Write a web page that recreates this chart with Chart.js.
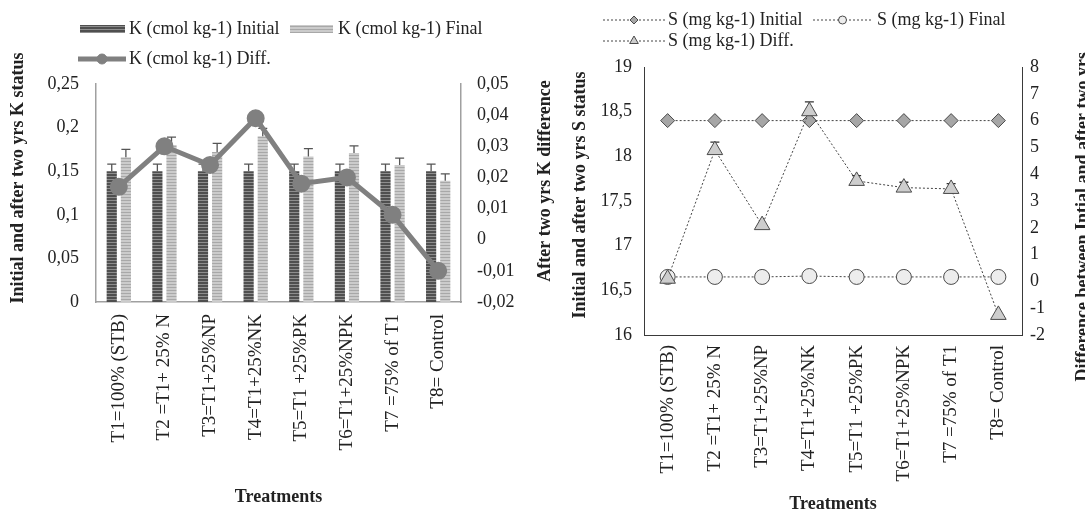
<!DOCTYPE html>
<html>
<head>
<meta charset="utf-8">
<script src="https://cdn.jsdelivr.net/npm/chart.js@4.4.1/dist/chart.umd.min.js"></script>
<style>
  html, body { margin: 0; padding: 0; background: #ffffff; }
  #wrap { position: relative; width: 1085px; height: 513px; overflow: hidden; }
  canvas { position: absolute; top: 0; }
  #kChart { left: 0; }
  #sChart { left: 560px; }
</style>
</head>
<body>
<div id="wrap">
  <canvas id="kChart" width="560" height="513"></canvas>
  <canvas id="sChart" width="525" height="513"></canvas>
</div>
<script>
// Treatments (shared category axis)
const treatments = [
  'T1=100% (STB)', 'T2 =T1+ 25% N', 'T3=T1+25%NP', 'T4=T1+25%NK',
  'T5=T1 +25%PK', 'T6=T1+25%NPK', 'T7 =75% of T1', 'T8= Control'
];

// Potassium, cmol kg-1
const kInitial    = [0.15, 0.15, 0.15, 0.15, 0.15, 0.15, 0.15, 0.15];
const kInitialErr = [0.008, 0.008, 0.008, 0.008, 0.008, 0.008, 0.008, 0.008];
const kFinal      = [0.166, 0.180, 0.172, 0.190, 0.167, 0.171, 0.157, 0.139];
const kFinalErr   = [0.009, 0.009, 0.010, 0.009, 0.009, 0.008, 0.008, 0.008];
const kDiff       = [0.017, 0.030, 0.024, 0.039, 0.018, 0.020, 0.008, -0.010];

// Sulphur, mg kg-1
const sInitial = [18.4, 18.4, 18.4, 18.4, 18.4, 18.4, 18.4, 18.4];
const sFinal   = [16.65, 16.65, 16.65, 16.66, 16.65, 16.65, 16.65, 16.65];
const sDiff    = [0.1, 4.9, 2.1, 6.35, 3.75, 3.5, 3.45, -1.25];
const sDiffErr = [0, 0.3, 0, 0.35, 0.2, 0.2, 0.2, 0];

// Axis ranges and steps
const kAxis     = { min: 0, max: 0.25, step: 0.05 };
const kDiffAxis = { min: -0.02, max: 0.05, step: 0.01 };
const sAxis     = { min: 16, max: 19, step: 0.5 };
const sDiffAxis = { min: -2, max: 8, step: 1 };

const SERIF = "'Liberation Serif', 'Times New Roman', serif";
const TEXT = '#222222';
Chart.defaults.font.family = SERIF;
Chart.defaults.font.size = 18;
Chart.defaults.color = TEXT;

const fmt = v => String(parseFloat(Number(v).toFixed(4))).replace('.', ',');

function stripes(base, line) {
  const c = document.createElement('canvas');
  c.width = 4; c.height = 3;
  const g = c.getContext('2d');
  g.fillStyle = base; g.fillRect(0, 0, 4, 3);
  g.fillStyle = line; g.fillRect(0, 2, 4, 1);
  return g.createPattern(c, 'repeat');
}
const darkFill = stripes('#4f4f4f', '#8e8e8e');
const lightFill = stripes('#cbcbcb', '#a8a8a8');

// Plus-direction error bars drawn from each dataset's `errors` array
const errorBars = {
  id: 'errorBars',
  draw(chart, meta, ds) {
    const scale = chart.scales[meta.yAxisID];
    const ctx = chart.ctx;
    ctx.save();
    ctx.strokeStyle = ds.errorColor || '#444';
    ctx.lineWidth = 1.3;
    meta.data.forEach((el, i) => {
      const e = ds.errors[i];
      if (!e) return;
      const y0 = scale.getPixelForValue(ds.data[i]);
      const y1 = scale.getPixelForValue(ds.data[i] + e);
      ctx.beginPath();
      ctx.moveTo(el.x, y0); ctx.lineTo(el.x, y1);
      ctx.moveTo(el.x - 4.5, y1); ctx.lineTo(el.x + 4.5, y1);
      ctx.stroke();
    });
    ctx.restore();
  },
  beforeDatasetDraw(chart, args) {
    const ds = chart.data.datasets[args.index];
    if (ds.errors && ds.errorsBehind) this.draw(chart, args.meta, ds);
  },
  afterDatasetDraw(chart, args) {
    const ds = chart.data.datasets[args.index];
    if (ds.errors && !ds.errorsBehind) this.draw(chart, args.meta, ds);
  }
};

// Legend entries and vertical axis titles
const decorations = {
  id: 'decorations',
  afterDraw(chart, args, opts) {
    const ctx = chart.ctx;
    ctx.save();
    ctx.font = '18px ' + SERIF;
    ctx.fillStyle = TEXT;
    ctx.textBaseline = 'middle';
    (opts.legend || []).forEach(it => {
      const ds = chart.data.datasets[it.ds];
      if (it.kind === 'bar') {
        ctx.fillStyle = ds.backgroundColor;
        ctx.fillRect(it.x1, it.y - 4, it.x2 - it.x1, 8);
      } else {
        ctx.strokeStyle = ds.borderColor;
        ctx.lineWidth = it.lineWidth || ds.borderWidth;
        ctx.setLineDash(ds.borderDash || []);
        ctx.beginPath(); ctx.moveTo(it.x1, it.y); ctx.lineTo(it.x2, it.y); ctx.stroke();
        ctx.setLineDash([]);
        ctx.fillStyle = ds.pointBackgroundColor;
        ctx.strokeStyle = ds.pointBorderColor || ds.borderColor;
        ctx.lineWidth = 1;
        Chart.helpers.drawPoint(ctx, { pointStyle: ds.pointStyle || 'circle', radius: it.r, borderWidth: 1, rotation: 0 }, (it.x1 + it.x2) / 2, it.y);
      }
      ctx.fillStyle = TEXT;
      ctx.textAlign = 'left';
      ctx.fillText(ds.label, it.textX, it.y);
    });
    ctx.font = 'bold 18px ' + SERIF;
    (opts.titles || []).forEach(t => {
      const w = ctx.measureText(t.text).width;
      const cy = t.top !== undefined ? t.top + w / 2 : t.cy;
      ctx.save();
      ctx.translate(t.x, cy);
      ctx.rotate(-Math.PI / 2);
      ctx.textAlign = 'center';
      ctx.textBaseline = 'middle';
      ctx.fillStyle = TEXT;
      ctx.fillText(t.text, 0, 0);
      ctx.restore();
    });
    ctx.restore();
  }
};

const xTitleFont = { family: SERIF, size: 18, weight: 'bold', lineHeight: 1 };
const xTickFont = { family: SERIF, size: 19 };

// ---- Potassium chart ----
new Chart(document.getElementById('kChart'), {
  type: 'bar',
  data: {
    labels: treatments,
    datasets: [
      {
        type: 'line', label: 'K (cmol kg-1) Diff.', data: kDiff, yAxisID: 'y1', order: 0,
        borderColor: '#808080', borderWidth: 5, pointRadius: 6.5, pointHoverRadius: 6.5,
        pointBackgroundColor: '#808080', pointBorderColor: '#808080', pointStyle: 'circle'
      },
      {
        label: 'K (cmol kg-1) Initial', data: kInitial, yAxisID: 'y', order: 1,
        backgroundColor: darkFill, errors: kInitialErr, errorColor: '#555',
        categoryPercentage: 0.62, barPercentage: 0.72
      },
      {
        label: 'K (cmol kg-1) Final', data: kFinal, yAxisID: 'y', order: 1,
        backgroundColor: lightFill, errors: kFinalErr, errorColor: '#555',
        categoryPercentage: 0.62, barPercentage: 0.72
      }
    ]
  },
  options: {
    responsive: false, animation: false, devicePixelRatio: 1,
    layout: { padding: { top: 84, left: 0, right: 0, bottom: 0 } },
    plugins: {
      legend: { display: false }, tooltip: { enabled: false },
      decorations: {
        legend: [
          { ds: 1, kind: 'bar', x1: 80, x2: 125, y: 29, textX: 129 },
          { ds: 2, kind: 'bar', x1: 290, x2: 333, y: 29, textX: 338 },
          { ds: 0, kind: 'line', x1: 78, x2: 126, y: 59, textX: 129, r: 5, lineWidth: 5 }
        ],
        titles: [
          { text: 'Initial and after two yrs K status', x: 18, cy: 178 },
          { text: 'After two yrs K difference', x: 545, cy: 181 }
        ]
      }
    },
    scales: {
      x: {
        grid: { display: false, drawTicks: false },
        border: { display: true, color: '#a0a0a0', width: 1.5 },
        ticks: { autoSkip: false, minRotation: 90, maxRotation: 90, padding: 12, color: TEXT, font: xTickFont },
        title: { display: true, text: 'Treatments', font: xTitleFont, color: TEXT, padding: { top: 0, bottom: 7 } },
        afterFit: s => { s.height = 211; }
      },
      y: {
        position: 'left', min: kAxis.min, max: kAxis.max,
        grid: { display: false, drawTicks: false },
        border: { display: true, color: '#a0a0a0', width: 1.5 },
        ticks: { stepSize: kAxis.step, padding: 17, callback: fmt, color: TEXT },
        afterFit: s => { s.width = 96; }
      },
      y1: {
        position: 'right', min: kDiffAxis.min, max: kDiffAxis.max,
        grid: { display: false, drawTicks: false },
        border: { display: true, color: '#a0a0a0', width: 1.5 },
        ticks: { stepSize: kDiffAxis.step, padding: 16, callback: fmt, color: TEXT },
        afterFit: s => { s.width = 99; }
      }
    }
  },
  plugins: [errorBars, decorations]
});

// ---- Sulphur chart ----
new Chart(document.getElementById('sChart'), {
  type: 'line',
  data: {
    labels: treatments,
    datasets: [
      {
        label: 'S (mg kg-1) Initial', data: sInitial, yAxisID: 'y', order: 2,
        borderColor: '#444', borderWidth: 1, borderDash: [2, 2],
        pointStyle: 'rectRot', pointRadius: 7, pointHoverRadius: 7,
        pointBackgroundColor: '#a6a6a6', pointBorderColor: '#4a4a4a', pointBorderWidth: 1
      },
      {
        label: 'S (mg kg-1) Final', data: sFinal, yAxisID: 'y', order: 1,
        borderColor: '#444', borderWidth: 1, borderDash: [2, 2],
        pointStyle: 'circle', pointRadius: 7.5, pointHoverRadius: 7.5,
        pointBackgroundColor: '#ededed', pointBorderColor: '#4a4a4a', pointBorderWidth: 1
      },
      {
        label: 'S (mg kg-1) Diff.', data: sDiff, yAxisID: 'y1', order: 0,
        borderColor: '#444', borderWidth: 1, borderDash: [2, 2],
        pointStyle: 'triangle', pointRadius: 9, pointHoverRadius: 9,
        pointBackgroundColor: '#cdcdcd', pointBorderColor: '#4a4a4a', pointBorderWidth: 1,
        errors: sDiffErr, errorsBehind: true, errorColor: '#333'
      }
    ]
  },
  options: {
    responsive: false, animation: false, devicePixelRatio: 1,
    layout: { padding: { top: 67, left: 0, right: 0, bottom: 0 } },
    plugins: {
      legend: { display: false }, tooltip: { enabled: false },
      decorations: {
        legend: [
          { ds: 0, kind: 'line', x1: 43, x2: 105, y: 20, textX: 108, r: 4, lineWidth: 1 },
          { ds: 1, kind: 'line', x1: 253, x2: 312, y: 20, textX: 317, r: 4, lineWidth: 1 },
          { ds: 2, kind: 'line', x1: 43, x2: 105, y: 41, textX: 108, r: 5, lineWidth: 1 }
        ],
        titles: [
          { text: 'Initial and after two yrs S status', x: 20, cy: 195 },
          { text: 'Difference between Intial and after two yrs', x: 523, top: 52 }
        ]
      }
    },
    scales: {
      x: {
        offset: true,
        grid: { display: false, drawTicks: false },
        border: { display: true, color: '#3a3a3a', width: 1 },
        ticks: { autoSkip: false, minRotation: 90, maxRotation: 90, padding: 10, color: TEXT, font: xTickFont },
        title: { display: true, text: 'Treatments', font: xTitleFont, color: TEXT, padding: { top: 0, bottom: 0 } },
        afterFit: s => { s.height = 178; }
      },
      y: {
        position: 'left', min: sAxis.min, max: sAxis.max,
        grid: { display: false, drawTicks: false },
        border: { display: true, color: '#3a3a3a', width: 1 },
        ticks: { stepSize: sAxis.step, padding: 12, callback: fmt, color: TEXT },
        afterFit: s => { s.width = 84; }
      },
      y1: {
        position: 'right', min: sDiffAxis.min, max: sDiffAxis.max,
        grid: { display: false, drawTicks: false },
        border: { display: true, color: '#3a3a3a', width: 1 },
        ticks: { stepSize: sDiffAxis.step, padding: 8, callback: fmt, color: TEXT },
        afterFit: s => { s.width = 63; }
      }
    }
  },
  plugins: [errorBars, decorations]
});
</script>
</body>
</html>
